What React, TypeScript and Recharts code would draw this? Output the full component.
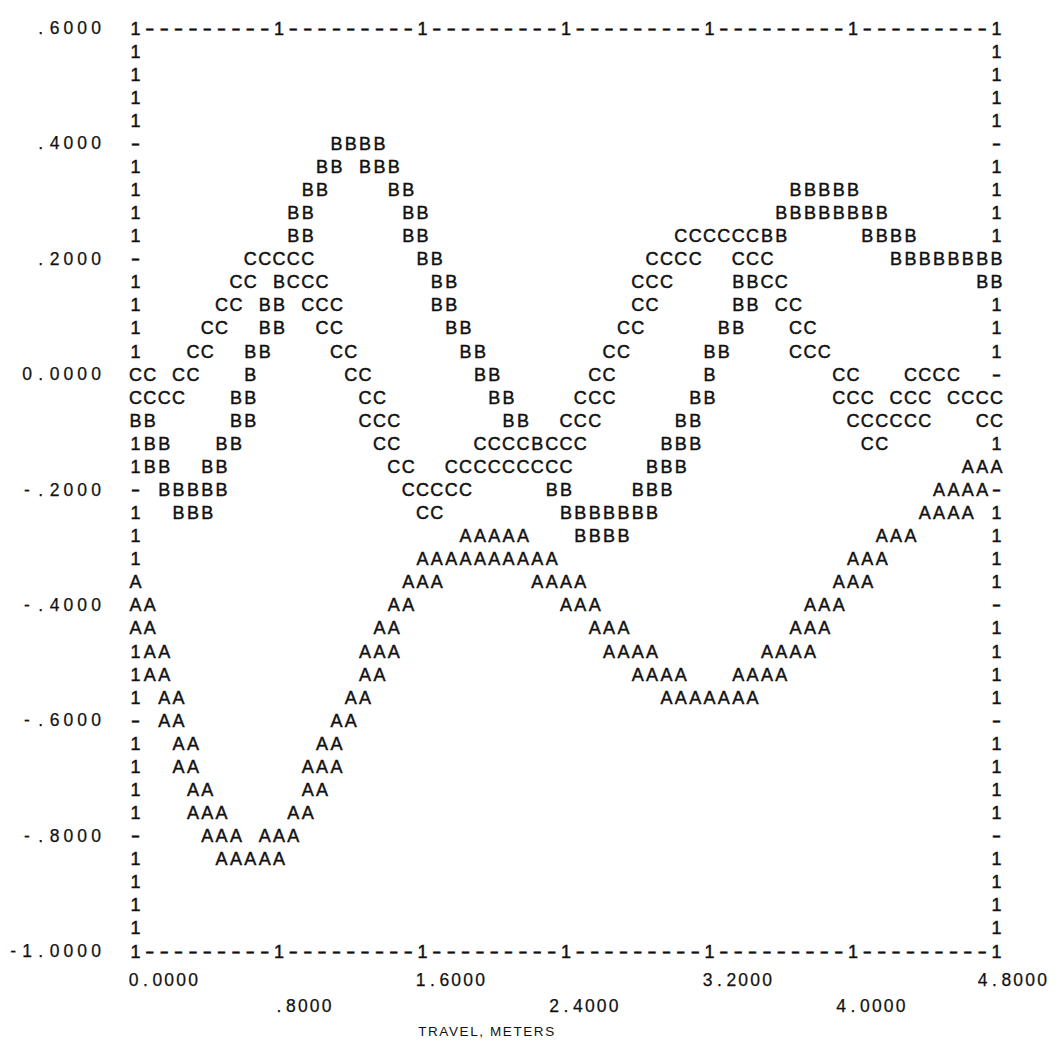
import React from "react"
import { ScatterChart, Scatter, XAxis, YAxis } from "recharts"

// axis ticks and the labels the printer put next to them
const xTicks = [0, 0.8, 1.6, 2.4, 3.2, 4.0, 4.8]
const xTickLabels = ["0.0000", ".8000", "1.6000", "2.4000", "3.2000", "4.0000", "4.8000"]
const yTicks = [0.6, 0.4, 0.2, 0, -0.2, -0.4, -0.6, -0.8, -1.0]
const yTickLabels = [".6000", ".4000", ".2000", "0.0000", "-.2000", "-.4000", "-.6000", "-.8000", "-1.0000"]

// every printed line: y level and the travel positions (m) where the curve letter shows
const curveA = [
  { y: -0.16, x: [4.64, 4.72, 4.8] },
  { y: -0.2, x: [4.48, 4.56, 4.64, 4.72] },
  { y: -0.24, x: [4.4, 4.48, 4.56, 4.64] },
  { y: -0.28, x: [1.84, 1.92, 2.0, 2.08, 2.16, 4.16, 4.24, 4.32] },
  { y: -0.32, x: [1.6, 1.68, 1.76, 1.84, 1.92, 2.0, 2.08, 2.16, 2.24, 2.32, 4.0, 4.08, 4.16] },
  { y: -0.36, x: [0, 1.52, 1.6, 1.68, 2.24, 2.32, 2.4, 2.48, 3.92, 4.0, 4.08] },
  { y: -0.4, x: [0, 0.08, 1.44, 1.52, 2.4, 2.48, 2.56, 3.76, 3.84, 3.92] },
  { y: -0.44, x: [0, 0.08, 1.36, 1.44, 2.56, 2.64, 2.72, 3.68, 3.76, 3.84] },
  { y: -0.48, x: [0.08, 0.16, 1.28, 1.36, 1.44, 2.64, 2.72, 2.8, 2.88, 3.52, 3.6, 3.68, 3.76] },
  { y: -0.52, x: [0.08, 0.16, 1.28, 1.36, 2.8, 2.88, 2.96, 3.04, 3.36, 3.44, 3.52, 3.6] },
  { y: -0.56, x: [0.16, 0.24, 1.2, 1.28, 2.96, 3.04, 3.12, 3.2, 3.28, 3.36, 3.44] },
  { y: -0.6, x: [0.16, 0.24, 1.12, 1.2] },
  { y: -0.64, x: [0.24, 0.32, 1.04, 1.12] },
  { y: -0.68, x: [0.24, 0.32, 0.96, 1.04, 1.12] },
  { y: -0.72, x: [0.32, 0.4, 0.96, 1.04] },
  { y: -0.76, x: [0.32, 0.4, 0.48, 0.88, 0.96] },
  { y: -0.8, x: [0.4, 0.48, 0.56, 0.72, 0.8, 0.88] },
  { y: -0.84, x: [0.48, 0.56, 0.64, 0.72, 0.8] },
]

const curveB = [
  { y: 0.4, x: [1.12, 1.2, 1.28, 1.36] },
  { y: 0.36, x: [1.04, 1.12, 1.28, 1.36, 1.44] },
  { y: 0.32, x: [0.96, 1.04, 1.44, 1.52, 3.68, 3.76, 3.84, 3.92, 4.0] },
  { y: 0.28, x: [0.88, 0.96, 1.52, 1.6, 3.6, 3.68, 3.76, 3.84, 3.92, 4.0, 4.08, 4.16] },
  { y: 0.24, x: [0.88, 0.96, 1.52, 1.6, 3.52, 3.6, 4.08, 4.16, 4.24, 4.32] },
  { y: 0.2, x: [1.6, 1.68, 4.24, 4.32, 4.4, 4.48, 4.56, 4.64, 4.72, 4.8] },
  { y: 0.16, x: [0.8, 1.68, 1.76, 3.36, 3.44, 4.72, 4.8] },
  { y: 0.12, x: [0.72, 0.8, 1.68, 1.76, 3.36, 3.44] },
  { y: 0.08, x: [0.72, 0.8, 1.76, 1.84, 3.28, 3.36] },
  { y: 0.04, x: [0.64, 0.72, 1.84, 1.92, 3.2, 3.28] },
  { y: 0, x: [0.64, 1.92, 2.0, 3.2] },
  { y: -0.04, x: [0.56, 0.64, 2.0, 2.08, 3.12, 3.2] },
  { y: -0.08, x: [0, 0.08, 0.56, 0.64, 2.08, 2.16, 3.04, 3.12] },
  { y: -0.12, x: [0.08, 0.16, 0.48, 0.56, 2.24, 2.96, 3.04, 3.12] },
  { y: -0.16, x: [0.08, 0.16, 0.4, 0.48, 2.88, 2.96, 3.04] },
  { y: -0.2, x: [0.16, 0.24, 0.32, 0.4, 0.48, 2.32, 2.4, 2.8, 2.88, 2.96] },
  { y: -0.24, x: [0.24, 0.32, 0.4, 2.4, 2.48, 2.56, 2.64, 2.72, 2.8, 2.88] },
  { y: -0.28, x: [2.48, 2.56, 2.64, 2.72] },
]

const curveC = [
  { y: 0.24, x: [3.04, 3.12, 3.2, 3.28, 3.36, 3.44] },
  { y: 0.2, x: [0.64, 0.72, 0.8, 0.88, 0.96, 2.88, 2.96, 3.04, 3.12, 3.36, 3.44, 3.52] },
  { y: 0.16, x: [0.56, 0.64, 0.88, 0.96, 1.04, 2.8, 2.88, 2.96, 3.52, 3.6] },
  { y: 0.12, x: [0.48, 0.56, 0.96, 1.04, 1.12, 2.8, 2.88, 3.6, 3.68] },
  { y: 0.08, x: [0.4, 0.48, 1.04, 1.12, 2.72, 2.8, 3.68, 3.76] },
  { y: 0.04, x: [0.32, 0.4, 1.12, 1.2, 2.64, 2.72, 3.68, 3.76, 3.84] },
  { y: 0, x: [0, 0.08, 0.24, 0.32, 1.2, 1.28, 2.56, 2.64, 3.92, 4.0, 4.32, 4.4, 4.48, 4.56] },
  { y: -0.04, x: [0, 0.08, 0.16, 0.24, 1.28, 1.36, 2.48, 2.56, 2.64, 3.92, 4.0, 4.08, 4.24, 4.32, 4.4, 4.56, 4.64, 4.72, 4.8] },
  { y: -0.08, x: [1.28, 1.36, 1.44, 2.4, 2.48, 2.56, 4.0, 4.08, 4.16, 4.24, 4.32, 4.4, 4.72, 4.8] },
  { y: -0.12, x: [1.36, 1.44, 1.92, 2.0, 2.08, 2.16, 2.32, 2.4, 2.48, 4.08, 4.16] },
  { y: -0.16, x: [1.44, 1.52, 1.76, 1.84, 1.92, 2.0, 2.08, 2.16, 2.24, 2.32, 2.4] },
  { y: -0.2, x: [1.52, 1.6, 1.68, 1.76, 1.84] },
  { y: -0.24, x: [1.6, 1.68] },
]

// line printer grid: one column per 0.08 m, one line per 0.04
const COL = 0.08
const ROW = 0.04
const FONT = "'Liberation Sans', Arial, Helvetica, sans-serif"
const INK = "#111"
const CHART_W = 1048

const toPoints = (curve: { y: number; x: number[] }[], ch: string) =>
  curve.flatMap((line) => line.x.map((x) => ({ x, y: line.y, ch })))

const pointsA = toPoints(curveA, "A")
const pointsB = toPoints(curveB, "B")
const pointsC = toPoints(curveC, "C")

const cellKey = (x: number, y: number) => `${Math.round(x / COL)}:${Math.round((0.6 - y) / ROW)}`
const used = new Set([...pointsA, ...pointsB, ...pointsC].map((p) => cellKey(p.x, p.y)))

// the printed frame: "1" at every tick, "-" in between, skipped where a curve letter took the spot
const frame: { x: number; y: number; ch: string }[] = []
for (let c = 0; c <= 60; c++) {
  const x = Math.round(c * COL * 100) / 100
  const ch = c % 10 === 0 ? "1" : "-"
  frame.push({ x, y: 0.6, ch }, { x, y: -1.0, ch })
}
for (let r = 1; r < 40; r++) {
  const y = Math.round((0.6 - r * ROW) * 100) / 100
  const ch = r % 5 === 0 ? "-" : "1"
  if (!used.has(cellKey(0, y))) frame.push({ x: 0, y, ch })
  if (!used.has(cellKey(4.8, y))) frame.push({ x: 4.8, y, ch })
}

const Glyph = (props: any) => {
  const { cx, cy, payload } = props
  if (cx == null || cy == null) return null
  if (payload.ch === "-") {
    return (
      <text x={cx} y={cy + 6.5} textAnchor="middle" fontSize={18} fontFamily={FONT} fill={INK}
        stroke={INK} strokeWidth={0.6} textLength={9} lengthAdjust="spacingAndGlyphs">
        -
      </text>
    )
  }
  return (
    <text x={cx} y={cy + 6.5} textAnchor="middle" fontSize={18} fontFamily={FONT} fill={INK}
      stroke={INK} strokeWidth={0.45}>
      {payload.ch}
    </text>
  )
}

const spaced = (label: string, start: number, y: number, pitch: number) =>
  label.split("").map((c, i) => (
    <text key={i} x={start + i * pitch} y={y} textAnchor="middle" fontSize={17.5} fontFamily={FONT}
      fill={INK} stroke={INK} strokeWidth={0.25}>
      {c}
    </text>
  ))

const YTick = (props: any) => {
  const { y, payload } = props
  const idx = yTicks.findIndex((t) => Math.abs(t - payload.value) < 1e-6)
  if (idx < 0) return null
  const label = yTickLabels[idx]
  const pitch = 13.8
  const right = 88
  return <g>{spaced(label, right - (label.length - 1) * pitch, y + 6, pitch)}</g>
}

const XTick = (props: any) => {
  const { x, payload } = props
  const idx = xTicks.findIndex((t) => Math.abs(t - payload.value) < 1e-6)
  if (idx < 0) return null
  const label = xTickLabels[idx]
  const pitch = 11.9
  const lower = idx % 2 === 1
  let start = lower ? x - label.indexOf(".") * pitch : x - 2
  // the last label runs into the page edge, keep it on the paper
  start = Math.min(start, CHART_W - 14 - (label.length - 1) * pitch)
  return <g>{spaced(label, start, lower ? 1004 : 978, pitch)}</g>
}

const AxisTitle = () => (
  <text x={479} y={1028} textAnchor="middle" fontSize={13.5} fontFamily={FONT} fill={INK} letterSpacing={1.6}>
    TRAVEL, METERS
  </text>
)

export default function App() {
  return (
    <div style={{ width: CHART_W, height: 1032, background: "#fff" }}>
      <ScatterChart width={CHART_W} height={1032} margin={{ top: 20, right: 59.5, bottom: 0, left: 0 }}>
        <XAxis
          type="number"
          dataKey="x"
          domain={[0, 4.8]}
          ticks={xTicks}
          interval={0}
          height={89}
          axisLine={false}
          tickLine={false}
          tick={(p: any) => <XTick {...p} />}
          label={<AxisTitle />}
        />
        <YAxis
          type="number"
          dataKey="y"
          domain={[-1, 0.6]}
          ticks={yTicks}
          interval={0}
          width={127.5}
          axisLine={false}
          tickLine={false}
          tick={(p: any) => <YTick {...p} />}
        />
        <Scatter name="frame" data={frame} shape={<Glyph />} isAnimationActive={false} />
        <Scatter name="A" data={pointsA} shape={<Glyph />} isAnimationActive={false} />
        <Scatter name="B" data={pointsB} shape={<Glyph />} isAnimationActive={false} />
        <Scatter name="C" data={pointsC} shape={<Glyph />} isAnimationActive={false} />
      </ScatterChart>
    </div>
  )
}
